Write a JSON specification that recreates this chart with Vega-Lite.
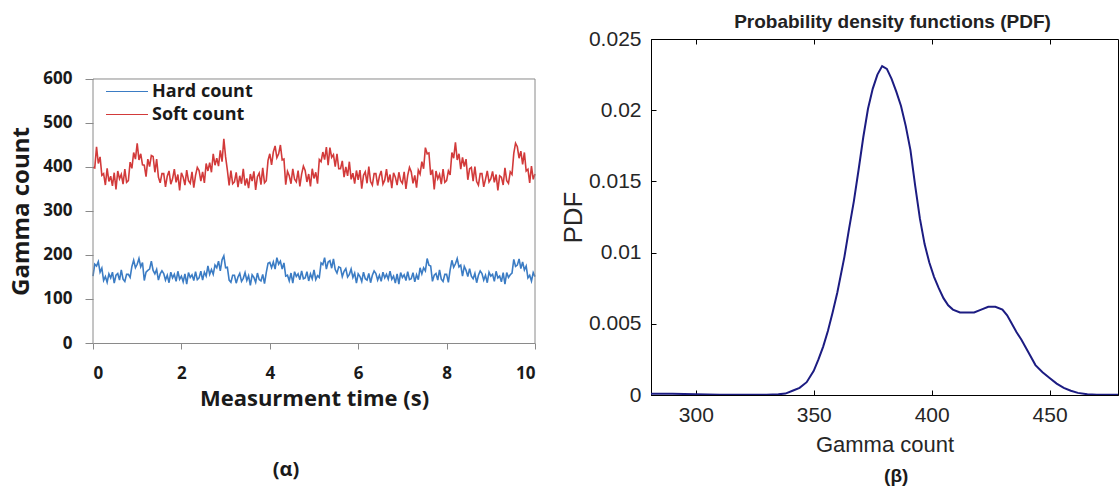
{
"$schema":"https://vega.github.io/schema/vega-lite/v6.json",
"padding":{"left":9,"top":12,"right":0,"bottom":0},
"background":"white",
"spacing":20,
"hconcat":[
{
"vconcat":[
{
"width":442,"height":304,
"view":{"stroke":null},
"layer":[
{
"data":{"values":[
{"t":0,"h":152,"s":399},{"t":0.04,"h":179,"s":398},{"t":0.08,"h":175,"s":446},{"t":0.12,"h":185,"s":408},{"t":0.16,"h":161,"s":423},{"t":0.2,"h":170,"s":381},{"t":0.24,"h":142,"s":385},{"t":0.28,"h":151,"s":359},{"t":0.32,"h":138,"s":397},{"t":0.36,"h":157,"s":367},{"t":0.4,"h":148,"s":379},{"t":0.44,"h":161,"s":357},{"t":0.48,"h":136,"s":387},{"t":0.52,"h":154,"s":349},{"t":0.56,"h":158,"s":391},{"t":0.6,"h":143,"s":373},{"t":0.64,"h":166,"s":383},{"t":0.68,"h":145,"s":361},{"t":0.72,"h":140,"s":395},{"t":0.76,"h":156,"s":365},
{"t":0.8,"h":156,"s":369},{"t":0.84,"h":149,"s":411},{"t":0.88,"h":174,"s":397},{"t":0.92,"h":188,"s":433},{"t":0.96,"h":171,"s":418},{"t":1.0,"h":179,"s":454},{"t":1.04,"h":192,"s":416},{"t":1.08,"h":173,"s":430},{"t":1.12,"h":183,"s":405},{"t":1.16,"h":142,"s":404},{"t":1.2,"h":161,"s":378},{"t":1.24,"h":165,"s":418},{"t":1.28,"h":168,"s":401},{"t":1.32,"h":186,"s":426},{"t":1.36,"h":165,"s":424},{"t":1.4,"h":157,"s":388},{"t":1.44,"h":167,"s":418},{"t":1.48,"h":143,"s":377},{"t":1.52,"h":157,"s":364},{"t":1.56,"h":164,"s":385},
{"t":1.6,"h":158,"s":385},{"t":1.64,"h":143,"s":355},{"t":1.68,"h":154,"s":379},{"t":1.72,"h":137,"s":391},{"t":1.76,"h":161,"s":361},{"t":1.8,"h":148,"s":373},{"t":1.84,"h":156,"s":395},{"t":1.88,"h":140,"s":365},{"t":1.92,"h":163,"s":383},{"t":1.96,"h":145,"s":347},{"t":2.0,"h":152,"s":387},{"t":2.04,"h":139,"s":377},{"t":2.08,"h":157,"s":359},{"t":2.12,"h":134,"s":393},{"t":2.16,"h":160,"s":369},{"t":2.2,"h":149,"s":363},{"t":2.24,"h":155,"s":389},{"t":2.28,"h":142,"s":353},{"t":2.32,"h":162,"s":381},{"t":2.36,"h":144,"s":399},
{"t":2.4,"h":148,"s":392},{"t":2.44,"h":163,"s":368},{"t":2.48,"h":143,"s":389},{"t":2.52,"h":161,"s":364},{"t":2.56,"h":152,"s":408},{"t":2.6,"h":175,"s":391},{"t":2.64,"h":156,"s":410},{"t":2.68,"h":167,"s":388},{"t":2.72,"h":156,"s":430},{"t":2.76,"h":177,"s":404},{"t":2.8,"h":171,"s":420},{"t":2.84,"h":186,"s":402},{"t":2.88,"h":164,"s":438},{"t":2.92,"h":189,"s":412},{"t":2.96,"h":198,"s":464},{"t":3.0,"h":171,"s":423},{"t":3.04,"h":172,"s":393},{"t":3.08,"h":143,"s":358},{"t":3.12,"h":138,"s":392},{"t":3.16,"h":154,"s":362},
{"t":3.2,"h":154,"s":366},{"t":3.24,"h":136,"s":388},{"t":3.28,"h":150,"s":354},{"t":3.32,"h":158,"s":380},{"t":3.36,"h":140,"s":362},{"t":3.4,"h":147,"s":396},{"t":3.44,"h":160,"s":358},{"t":3.48,"h":142,"s":374},{"t":3.52,"h":153,"s":352},{"t":3.56,"h":131,"s":384},{"t":3.6,"h":155,"s":368},{"t":3.64,"h":149,"s":390},{"t":3.68,"h":138,"s":348},{"t":3.72,"h":159,"s":378},{"t":3.76,"h":144,"s":386},{"t":3.8,"h":141,"s":360},{"t":3.84,"h":156,"s":398},{"t":3.88,"h":135,"s":364},{"t":3.92,"h":160,"s":369},{"t":3.96,"h":181,"s":415},
{"t":4.0,"h":183,"s":430},{"t":4.04,"h":171,"s":405},{"t":4.08,"h":184,"s":434},{"t":4.12,"h":168,"s":448},{"t":4.16,"h":194,"s":421},{"t":4.2,"h":179,"s":430},{"t":4.24,"h":186,"s":450},{"t":4.28,"h":168,"s":416},{"t":4.32,"h":182,"s":418},{"t":4.36,"h":152,"s":360},{"t":4.4,"h":154,"s":390},{"t":4.44,"h":141,"s":380},{"t":4.48,"h":159,"s":362},{"t":4.52,"h":136,"s":396},{"t":4.56,"h":162,"s":372},{"t":4.6,"h":151,"s":366},{"t":4.64,"h":157,"s":392},{"t":4.68,"h":144,"s":356},{"t":4.72,"h":164,"s":384},{"t":4.76,"h":146,"s":402},
{"t":4.8,"h":148,"s":392},{"t":4.84,"h":162,"s":366},{"t":4.88,"h":141,"s":384},{"t":4.92,"h":157,"s":356},{"t":4.96,"h":146,"s":396},{"t":5.0,"h":166,"s":374},{"t":5.04,"h":144,"s":388},{"t":5.08,"h":153,"s":362},{"t":5.12,"h":149,"s":417},{"t":5.16,"h":182,"s":412},{"t":5.2,"h":178,"s":434},{"t":5.24,"h":194,"s":417},{"t":5.28,"h":168,"s":445},{"t":5.32,"h":184,"s":404},{"t":5.36,"h":187,"s":444},{"t":5.4,"h":170,"s":422},{"t":5.44,"h":191,"s":428},{"t":5.48,"h":167,"s":401},{"t":5.52,"h":159,"s":430},{"t":5.56,"h":173,"s":396},
{"t":5.6,"h":171,"s":396},{"t":5.64,"h":151,"s":414},{"t":5.68,"h":163,"s":377},{"t":5.72,"h":169,"s":400},{"t":5.76,"h":150,"s":380},{"t":5.8,"h":156,"s":412},{"t":5.84,"h":168,"s":372},{"t":5.88,"h":149,"s":386},{"t":5.92,"h":159,"s":362},{"t":5.96,"h":136,"s":392},{"t":6.0,"h":157,"s":371},{"t":6.04,"h":151,"s":393},{"t":6.08,"h":140,"s":351},{"t":6.12,"h":161,"s":381},{"t":6.16,"h":146,"s":389},{"t":6.2,"h":143,"s":363},{"t":6.24,"h":158,"s":401},{"t":6.28,"h":137,"s":367},{"t":6.32,"h":154,"s":359},{"t":6.36,"h":164,"s":385},
{"t":6.4,"h":158,"s":385},{"t":6.44,"h":143,"s":358},{"t":6.48,"h":154,"s":379},{"t":6.52,"h":140,"s":391},{"t":6.56,"h":161,"s":361},{"t":6.6,"h":148,"s":370},{"t":6.64,"h":156,"s":395},{"t":6.68,"h":145,"s":365},{"t":6.72,"h":163,"s":383},{"t":6.76,"h":145,"s":352},{"t":6.8,"h":152,"s":387},{"t":6.84,"h":136,"s":377},{"t":6.88,"h":157,"s":359},{"t":6.92,"h":134,"s":388},{"t":6.96,"h":160,"s":369},{"t":7.0,"h":149,"s":363},{"t":7.04,"h":155,"s":389},{"t":7.08,"h":142,"s":350},{"t":7.12,"h":162,"s":381},{"t":7.16,"h":144,"s":399},
{"t":7.2,"h":146,"s":389},{"t":7.24,"h":160,"s":363},{"t":7.28,"h":139,"s":381},{"t":7.32,"h":155,"s":353},{"t":7.36,"h":144,"s":393},{"t":7.4,"h":171,"s":384},{"t":7.44,"h":157,"s":412},{"t":7.48,"h":171,"s":396},{"t":7.52,"h":164,"s":444},{"t":7.56,"h":192,"s":430},{"t":7.6,"h":177,"s":432},{"t":7.64,"h":175,"s":382},{"t":7.68,"h":140,"s":394},{"t":7.72,"h":154,"s":349},{"t":7.76,"h":158,"s":391},{"t":7.8,"h":143,"s":373},{"t":7.84,"h":166,"s":383},{"t":7.88,"h":145,"s":361},{"t":7.92,"h":140,"s":395},{"t":7.96,"h":156,"s":365},
{"t":8.0,"h":156,"s":369},{"t":8.04,"h":138,"s":391},{"t":8.08,"h":166,"s":382},{"t":8.12,"h":188,"s":433},{"t":8.16,"h":172,"s":420},{"t":8.2,"h":180,"s":456},{"t":8.24,"h":192,"s":416},{"t":8.28,"h":173,"s":430},{"t":8.32,"h":177,"s":395},{"t":8.36,"h":152,"s":422},{"t":8.4,"h":174,"s":401},{"t":8.44,"h":165,"s":418},{"t":8.48,"h":151,"s":371},{"t":8.52,"h":169,"s":396},{"t":8.56,"h":152,"s":399},{"t":8.6,"h":146,"s":368},{"t":8.64,"h":158,"s":401},{"t":8.68,"h":137,"s":367},{"t":8.72,"h":154,"s":359},{"t":8.76,"h":164,"s":385},
{"t":8.8,"h":158,"s":385},{"t":8.84,"h":143,"s":355},{"t":8.88,"h":154,"s":372},{"t":8.92,"h":137,"s":391},{"t":8.96,"h":161,"s":366},{"t":9.0,"h":152,"s":373},{"t":9.04,"h":156,"s":390},{"t":9.08,"h":140,"s":365},{"t":9.12,"h":163,"s":383},{"t":9.16,"h":148,"s":347},{"t":9.2,"h":152,"s":380},{"t":9.24,"h":139,"s":377},{"t":9.28,"h":160,"s":359},{"t":9.32,"h":134,"s":398},{"t":9.36,"h":160,"s":369},{"t":9.4,"h":149,"s":363},{"t":9.44,"h":155,"s":389},{"t":9.48,"h":159,"s":383},{"t":9.52,"h":190,"s":431},{"t":9.56,"h":174,"s":454},
{"t":9.6,"h":177,"s":446},{"t":9.64,"h":191,"s":420},{"t":9.68,"h":169,"s":436},{"t":9.72,"h":184,"s":406},{"t":9.76,"h":166,"s":433},{"t":9.8,"h":175,"s":391},{"t":9.84,"h":148,"s":395},{"t":9.88,"h":154,"s":364},{"t":9.92,"h":141,"s":402},{"t":9.96,"h":160,"s":372},{"t":10.0,"h":151,"s":384}
]},
"transform":[{"fold":["h","s"],"as":["series","value"]}],
"mark":{"type":"line","strokeWidth":1.6},
"encoding":{
"x":{"field":"t","type":"quantitative","scale":{"domain":[0,10],"nice":false,"zero":false},
"axis":{"values":[0,2,4,6,8,10],"title":"Measurment time (s)","grid":false,"domainColor":"#8a8a8a","tickColor":"#8a8a8a","tickSize":6,"labelFont":"Open Sans","labelFontWeight":"bold","labelFontSize":17,"labelColor":"#1a1a1a","labelPadding":16,"titleFont":"Open Sans","titleFontWeight":"bold","titleFontSize":22,"titleColor":"#1a1a1a","titlePadding":7}},
"y":{"field":"value","type":"quantitative","scale":{"domain":[0,690.9],"nice":false},
"axis":{"values":[0,100,200,300,400,500,600],"title":"Gamma count","titleY":172,"domain":false,"grid":false,"tickColor":"#8a8a8a","tickSize":8,"labelFont":"Open Sans","labelFontWeight":"bold","labelFontSize":17,"labelColor":"#1a1a1a","labelPadding":13,"titleFont":"Open Sans","titleFontWeight":"bold","titleFontSize":24,"titleColor":"#1a1a1a","titlePadding":9}},
"color":{"field":"series","type":"nominal","scale":{"domain":["h","s"],"range":["#3b7cc4","#d23a3a"]},
"legend":{"orient":"none","legendX":33,"legendY":41,"title":null,"symbolType":"M-3,0H1","symbolSize":441,"symbolStrokeWidth":1.2,"labelExpr":"datum.value == 'h' ? 'Hard count' : 'Soft count'","labelFont":"Open Sans","labelFontWeight":"bold","labelFontSize":18,"labelColor":"#1a1a1a","labelOffset":3,"rowPadding":2,"padding":0}}
}
},
{"data":{"values":[{"k":1}]},"mark":{"type":"rule","color":"#8a8a8a","strokeWidth":1},"encoding":{"x":{"datum":0},"x2":{"datum":10},"y":{"datum":600}}},
{"data":{"values":[{"k":1}]},"mark":{"type":"rule","color":"#8a8a8a","strokeWidth":1},"encoding":{"x":{"datum":10},"y":{"datum":0},"y2":{"datum":600}}},
{"data":{"values":[{"k":1}]},"mark":{"type":"rule","color":"#8a8a8a","strokeWidth":1},"encoding":{"x":{"datum":0},"y":{"datum":0},"y2":{"datum":600}}}
]
}],
"title":{"text":"(α)","orient":"bottom","anchor":"middle","dx":12,"font":"Open Sans","fontWeight":"bold","fontSize":20,"color":"#1a1a1a","offset":51}
},
{
"vconcat":[{
"width":467,"height":356,
"view":{"stroke":"black","strokeWidth":1},
"title":{"text":"Probability density functions (PDF)","frame":"group","dx":8,"font":"Liberation Sans","fontWeight":"bold","fontSize":19,"color":"#222","offset":-4},
"data":{"values":[
{"v":281,"p":0.00008},{"v":290,"p":0.00008},{"v":300,"p":0.00006},{"v":310,"p":0.00002},{"v":320,"p":0.00001},{"v":330,"p":0.00002},{"v":335,"p":0.00005},{"v":338,"p":0.0001},{"v":341,"p":0.0003},{"v":344,"p":0.0005},{"v":347,"p":0.0009},{"v":350,"p":0.0017},{"v":352,"p":0.0025},{"v":354,"p":0.0034},{"v":356,"p":0.0045},{"v":358,"p":0.0058},{"v":360,"p":0.0072},{"v":363,"p":0.0097},{"v":365,"p":0.0117},{"v":367,"p":0.0136},{"v":369,"p":0.0158},{"v":371,"p":0.0181},{"v":373,"p":0.0201},{"v":375,"p":0.0215},{"v":377,"p":0.0225},{"v":379,"p":0.0231},{"v":381,"p":0.0229},{"v":383,"p":0.0222},{"v":385,"p":0.0213},{"v":387,"p":0.0203},{"v":389,"p":0.0189},{"v":391,"p":0.0172},{"v":393,"p":0.0147},{"v":395,"p":0.0124},{"v":397,"p":0.0106},{"v":399,"p":0.0093},{"v":401,"p":0.0083},{"v":403,"p":0.0075},{"v":405,"p":0.0068},{"v":407,"p":0.0063},{"v":409,"p":0.006},{"v":412,"p":0.0058},{"v":415,"p":0.0058},{"v":418,"p":0.0058},{"v":421,"p":0.006},{"v":424,"p":0.0062},{"v":427,"p":0.0062},{"v":430,"p":0.006},{"v":432,"p":0.0056},{"v":434,"p":0.005},{"v":436,"p":0.0044},{"v":438,"p":0.0039},{"v":440,"p":0.0033},{"v":442,"p":0.0027},{"v":444,"p":0.0021},{"v":447,"p":0.0016},{"v":450,"p":0.0012},{"v":453,"p":0.0008},{"v":456,"p":0.0005},{"v":459,"p":0.0003},{"v":462,"p":0.00015},{"v":466,"p":0.00005},{"v":470,"p":0.00002},{"v":479,"p":0.00001}
]},
"resolve":{"axis":{"x":"independent"}},
"layer":[
{"mark":{"type":"line","color":"#1c1c82","strokeWidth":2,"clip":true},
"encoding":{
"x":{"field":"v","type":"quantitative","scale":{"domain":[281,479],"nice":false,"zero":false},
"axis":{"values":[300,350,400,450],"title":"Gamma count","grid":false,"domainColor":"black","tickColor":"black","tickSize":-5,"labelFont":"Liberation Sans","labelFontSize":21,"labelColor":"#262626","labelPadding":14,"titleFont":"Liberation Sans","titleFontWeight":"normal","titleFontSize":22,"titleColor":"#262626","titlePadding":9}},
"y":{"field":"p","type":"quantitative","scale":{"domain":[0,0.025],"nice":false},
"axis":{"values":[0,0.005,0.01,0.015,0.02,0.025],"format":"~g","title":"PDF","grid":false,"domainColor":"black","tickColor":"black","tickSize":-5,"labelFont":"Liberation Sans","labelFontSize":21,"labelColor":"#262626","labelPadding":15,"titleFont":"Liberation Sans","titleFontWeight":"normal","titleFontSize":26,"titleColor":"#262626","titlePadding":2}}
}},
{"mark":{"type":"rule","opacity":0},
"encoding":{
"x":{"field":"v","type":"quantitative","axis":{"orient":"top","values":[300,350,400,450],"labels":false,"title":null,"domain":false,"grid":false,"tickColor":"black","tickSize":-5}}
}}
]
}],
"title":{"text":"(β)","orient":"bottom","anchor":"middle","dx":57,"font":"Liberation Sans","fontWeight":"bold","fontSize":19,"color":"#1a1a1a","offset":11}
}
]
}
